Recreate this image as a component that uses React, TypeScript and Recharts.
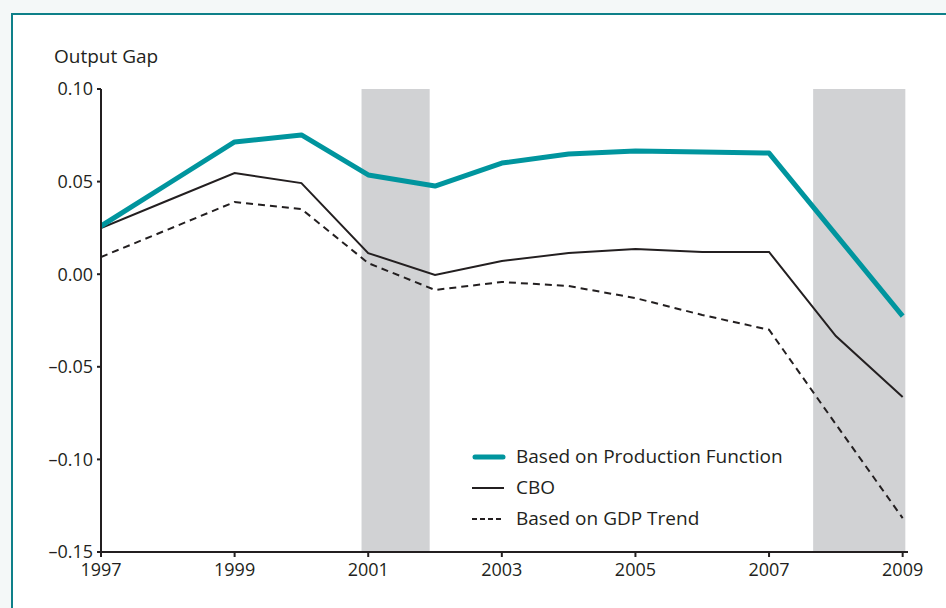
import React from 'react';
import { LineChart, Line, XAxis, YAxis, ReferenceArea } from 'recharts';

const years = [1997, 1998, 1999, 2000, 2001, 2002, 2003, 2004, 2005, 2006, 2007, 2008, 2009];
const productionFunction = [0.026, 0.0487, 0.0714, 0.0752, 0.0536, 0.0476, 0.060, 0.0649, 0.0665, 0.066, 0.0654, 0.0214, -0.0226];
const cbo = [0.0249, 0.0398, 0.0546, 0.0492, 0.0114, -0.0004, 0.0071, 0.0114, 0.0136, 0.012, 0.012, -0.0334, -0.0663];
const gdpTrend = [0.0093, 0.0241, 0.039, 0.0352, 0.006, -0.0085, -0.0042, -0.0064, -0.0129, -0.022, -0.030, -0.081, -0.1317];
const xTicks = [1997, 1999, 2001, 2003, 2005, 2007, 2009];
const yTicks = [-0.15, -0.1, -0.05, 0, 0.05, 0.1];
const recessions = [
  [2000.9, 2001.92],
  [2007.66, 2009.04],
];
const legendLabels = ['Based on Production Function', 'CBO', 'Based on GDP Trend'];

const data = years.map((y, i) => ({
  year: y,
  pf: productionFunction[i],
  cbo: cbo[i],
  gdp: gdpTrend[i],
}));

const TEAL = '#00959e';
const INK = '#231f20';
const FONT = '"Open Sans", "Noto Sans", sans-serif';

const fmtY = (v: number) => (v < 0 ? '\u2013' + Math.abs(v).toFixed(2) : v.toFixed(2));

const LegendBox = () => {
  const styles = [
    { color: TEAL, w: 5, dash: undefined as string | undefined },
    { color: INK, w: 2, dash: undefined as string | undefined },
    { color: INK, w: 2, dash: '5 3' },
  ];
  return (
    <div style={{ position: 'absolute', left: 470, top: 441, fontFamily: FONT, fontSize: 19, color: INK }}>
      {legendLabels.map((label, i) => (
        <div key={label} style={{ display: 'flex', alignItems: 'center', height: 31 }}>
          <svg width={44} height={10} style={{ marginRight: 2 }}>
            <line
              x1={styles[i].w > 3 ? 5 : 2}
              y1={5}
              x2={styles[i].w > 3 ? 33 : 34}
              y2={5}
              stroke={styles[i].color}
              strokeWidth={styles[i].w}
              strokeDasharray={styles[i].dash}
              strokeLinecap={styles[i].w > 3 ? 'round' : 'butt'}
            />
          </svg>
          <span style={{ lineHeight: '31px' }}>{label}</span>
        </div>
      ))}
    </div>
  );
};

export default function App() {
  return (
    <div style={{ position: 'fixed', left: 0, top: 0, width: 946, height: 608, background: '#f4f8f8', overflow: 'hidden' }}>
      <div style={{ position: 'absolute', left: 11, top: 13, width: 1000, height: 800, background: '#ffffff', border: '2px solid #0e8089' }} />
      <div style={{ position: 'absolute', left: 54, top: 43, fontFamily: FONT, fontSize: 19, color: INK }}>Output Gap</div>
      <div style={{ position: 'absolute', left: 0, top: 0 }}>
        <LineChart width={946} height={608} data={data} margin={{ top: 89, right: 38, bottom: 26, left: 41 }}>
          {recessions.map(([a, b], i) => (
            <ReferenceArea key={i} x1={a} x2={b} y1={-0.15} y2={0.1} fill="#d1d2d4" fillOpacity={1} stroke="none" ifOverflow="visible" />
          ))}
          <XAxis
            dataKey="year"
            type="number"
            domain={[1997, 2009.08]}
            ticks={xTicks}
            allowDataOverflow
            height={30}
            axisLine={{ stroke: INK, strokeWidth: 2 }}
            tickLine={{ stroke: INK, strokeWidth: 2 }}
            tickSize={5}
            tick={{ fill: INK, fontSize: 18, fontFamily: FONT }}
            tickMargin={6}
          />
          <YAxis
            type="number"
            domain={[-0.15, 0.1]}
            ticks={yTicks}
            width={60}
            axisLine={{ stroke: INK, strokeWidth: 2 }}
            tickLine={{ stroke: INK, strokeWidth: 2 }}
            tickSize={4}
            tickMargin={4}
            tickFormatter={fmtY}
            tick={{ fill: INK, fontSize: 18, fontFamily: FONT }}
          />
          <Line dataKey="gdp" stroke={INK} strokeWidth={2} strokeDasharray="7 5" dot={false} isAnimationActive={false} />
          <Line dataKey="cbo" stroke={INK} strokeWidth={2} dot={false} isAnimationActive={false} />
          <Line dataKey="pf" stroke={TEAL} strokeWidth={5} dot={false} isAnimationActive={false} strokeLinejoin="round" />
        </LineChart>
      </div>
      <LegendBox />
    </div>
  );
}
